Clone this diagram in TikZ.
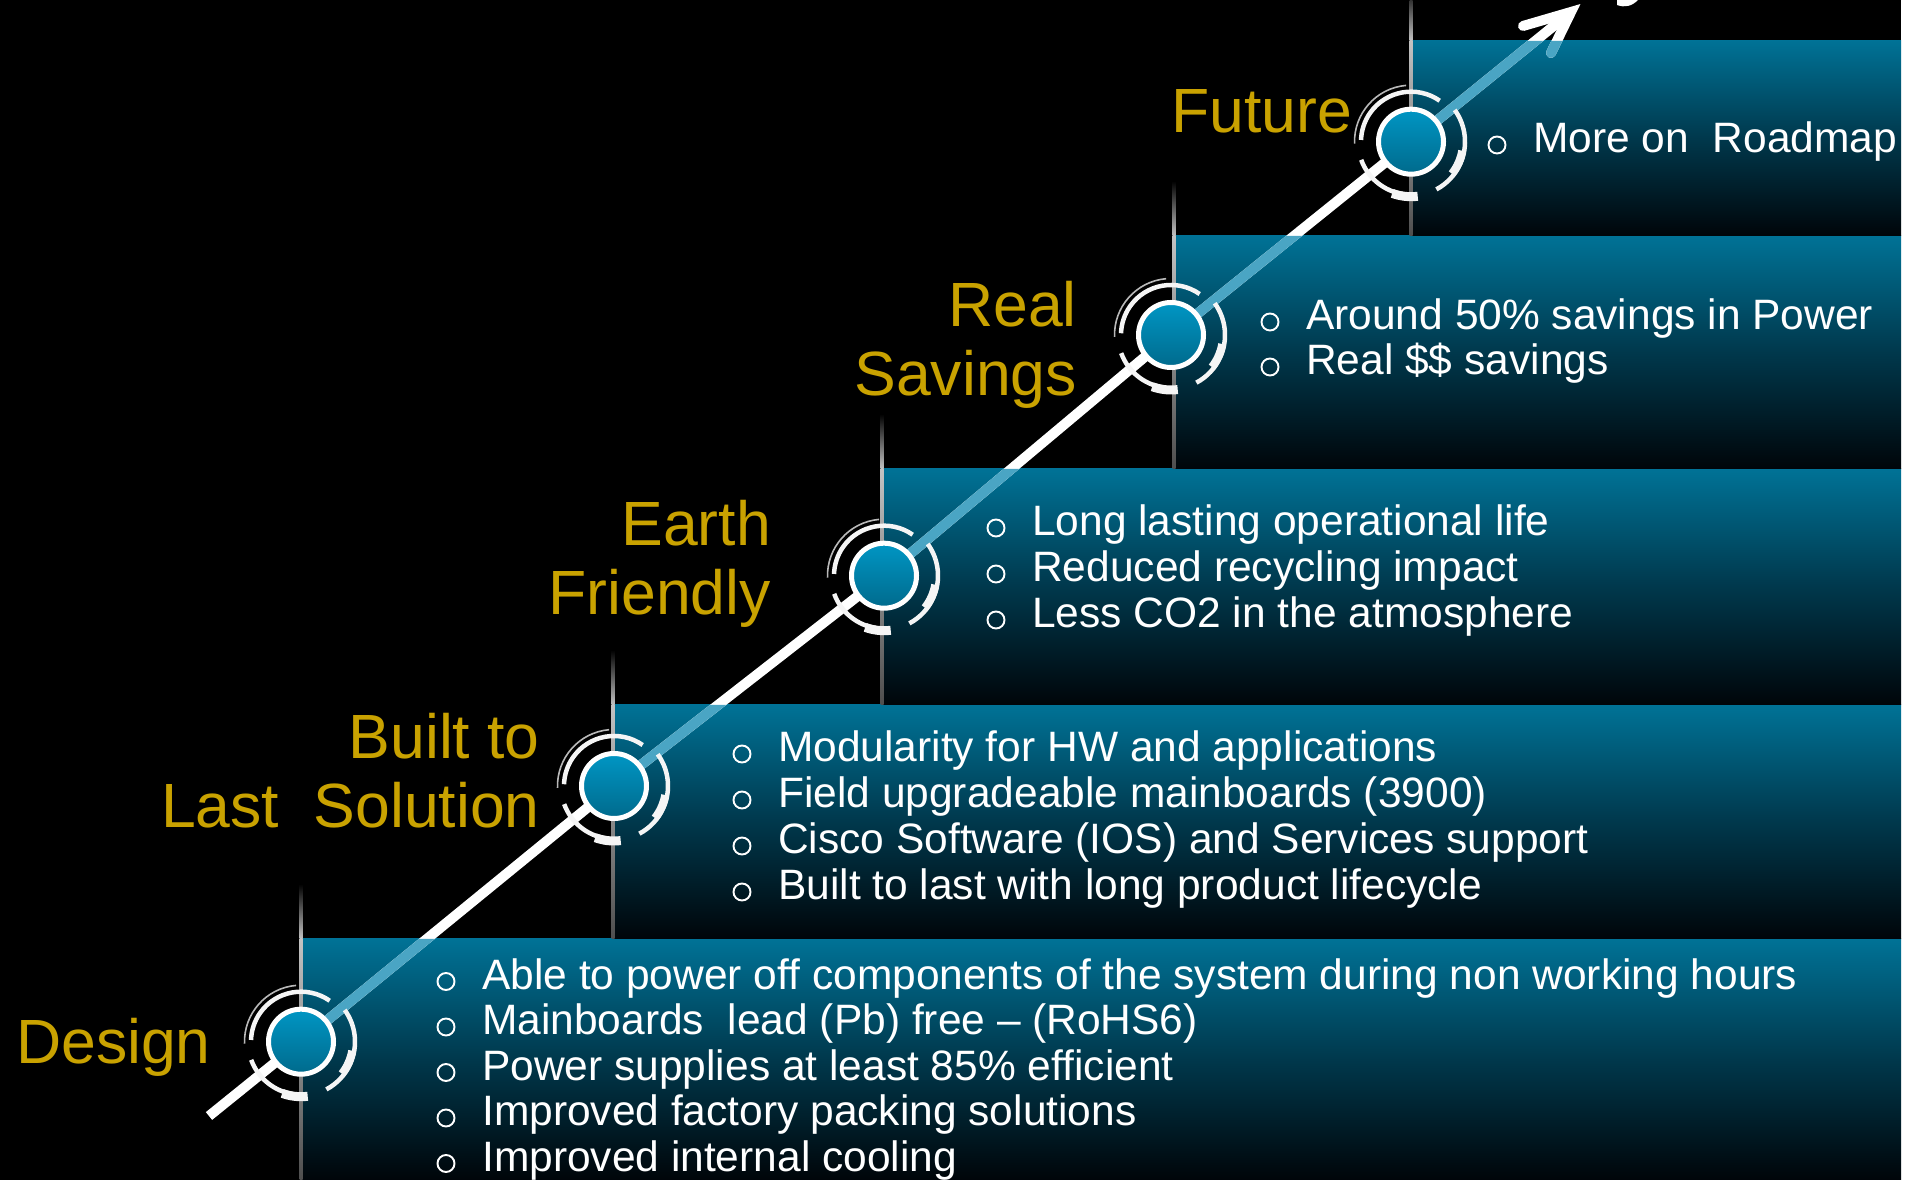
\documentclass[tikz,border=0pt]{standalone}
\usepackage{fontspec}
\setmainfont{Liberation Sans}
\definecolor{gold}{RGB}{201,162,0}
\definecolor{ptop}{RGB}{0,114,150}
\definecolor{pmid}{RGB}{0,56,76}
\definecolor{pbot}{RGB}{0,5,9}
\definecolor{lblue}{RGB}{74,165,196}
\definecolor{dtop}{RGB}{0,150,196}
\definecolor{dbot}{RGB}{0,106,140}
\definecolor{edgeg}{RGB}{195,195,195}
\definecolor{ringw}{RGB}{245,245,245}
\definecolor{ringg}{RGB}{185,185,185}
\tikzset{
  panelshade/.style={top color=ptop, bottom color=pbot, middle color=pmid},
  mainline/.style={line width=10pt, line join=round},
  dot/.style={circle, minimum size=65pt, inner sep=0pt, draw=white, line width=5pt, top color=dtop, bottom color=dbot},
  ringthin/.style={draw=ringg, line width=1.6pt},
  ringthick/.style={draw=ringw, line width=4.5pt},
  title/.style={text=gold, inner sep=0pt, font=\fontsize{62.5}{69}\selectfont},
  btxt/.style={text=white, inner sep=0pt, anchor=base west, font=\fontsize{42.5}{50}\selectfont},
  bul/.style={draw=white, line width=1.9pt}
}
\newcommand\ringdeco[2]{%
  \begin{scope}[shift={(#1,#2)}]
    \draw[ringthin] (95:56.5) arc[start angle=95, end angle=182, radius=56.5];
    \draw[ringthick] (55:50) arc[start angle=55, end angle=178, radius=50];
    \draw[ringthick] (36:54) arc[start angle=36, end angle=-62, radius=54];
    \draw[ringthick, line width=8pt] (-10:52) arc[start angle=-10, end angle=-38, radius=52];
    \draw[ringthick] (200:53) arc[start angle=200, end angle=262, radius=53];
    \draw[ringthick, line width=9pt] (250:55) arc[start angle=250, end angle=277, radius=55];
  \end{scope}}
\newcommand\bitem[4]{%
  \draw[bul] (#2-36,#3+8) circle (8.5);
  \node[btxt] (#1) at (#2,#3) {#4};}
\begin{document}
\begin{tikzpicture}[x=1pt,y=1pt]
\useasboundingbox (0,0) rectangle (1914,1180);
% background
\fill[black] (0,0) rectangle (1901,1180);
\fill[white] (1901,0) rectangle (1914,1180);
% panels
\shade[panelshade] (301,0) rectangle (1901,241);
\shade[panelshade] (613,241) rectangle (1901,475);
\shade[panelshade] (882,475) rectangle (1901,711);
\shade[panelshade] (1174,711) rectangle (1901,944);
\shade[panelshade] (1411,944) rectangle (1901,1139);
% vertical edge lines
\foreach \x/\t/\b in {301/241/0, 613/475/241, 882/711/475, 1174/944/711, 1411/1139/944} {
  \shade[top color=black, bottom color=edgeg] (\x-1.5,\t) rectangle (\x+1.5,\t+55);
  \shade[top color=edgeg, bottom color=edgeg!40!black] (\x-1.5,\b) rectangle (\x+1.5,\t);
}
% coordinates of the path
\coordinate (s) at (209,64);
\coordinate (c1) at (301,138.3);
\coordinate (c2) at (614,394);
\coordinate (c3) at (884,604.3);
\coordinate (c4) at (1171,845);
\coordinate (c5) at (1411,1038.3);
\coordinate (tip) at (1571,1168);
\coordinate (bl) at (1523,1154);
\coordinate (br) at (1551,1127);
% main line (white over black)
\draw[mainline, white] (s) -- (c1) -- (c2) -- (c3) -- (c4) -- (c5) -- (tip);
\draw[mainline, white, line cap=round, line join=miter] (bl) -- (tip) -- (br);
% main line over panels (light blue)
\begin{scope}
  \clip (301,0) rectangle (1901,241) (613,241) rectangle (1901,475)
        (882,475) rectangle (1901,711) (1174,711) rectangle (1901,944)
        (1411,944) rectangle (1901,1139);
  \draw[mainline, lblue] (s) -- (c1) -- (c2) -- (c3) -- (c4) -- (c5) -- (tip);
  \draw[mainline, lblue, line cap=round, line join=miter] (bl) -- (tip) -- (br);
\end{scope}
% fragment at top edge
\fill[white] (1617,1180) -- (1617,1175) .. controls (1625,1172) and (1632,1174) .. (1638,1180) -- cycle;
% ring decorations and dots
\ringdeco{301}{138.3}
\ringdeco{614}{394}
\ringdeco{884}{604.3}
\ringdeco{1171}{845}
\ringdeco{1411}{1038.3}
\node[dot] (d1) at (c1) {};
\node[dot] (d2) at (c2) {};
\node[dot] (d3) at (c3) {};
\node[dot] (d4) at (c4) {};
\node[dot] (d5) at (c5) {};
% titles
\node[title, anchor=base west] (tDesign) at (16,116) {Design};
\node[title, anchor=base east] (tBuiltA) at (540,421) {Built to};
\node[title, anchor=base east] (tBuiltB) at (540,352) {Last~ Solution};
\node[title, anchor=base east] (tEarthA) at (771,634) {Earth};
\node[title, anchor=base east] (tEarthB) at (771,565) {Friendly};
\node[title, anchor=base east] (tRealA) at (1077,853) {Real};
\node[title, anchor=base east] (tRealB) at (1077,784) {Savings};
\node[title, anchor=base east] (tFuture) at (1352,1047) {Future};
% bullet lists
\bitem{a1}{482}{190.5}{Able to power off components of the system during non working hours}
\bitem{a2}{482}{145}{Mainboards~ lead (Pb) free – (RoHS6)}
\bitem{a3}{482}{99.5}{Power supplies at least 85\% efficient}
\bitem{a4}{482}{54}{Improved factory packing solutions}
\bitem{a5}{482}{8.5}{Improved internal cooling}
\bitem{b1}{778}{418}{Modularity for HW and applications}
\bitem{b2}{778}{372}{Field upgradeable mainboards (3900)}
\bitem{b3}{778}{326}{Cisco Software (IOS) and Services support}
\bitem{b4}{778}{280}{Built to last with long product lifecycle}
\bitem{e1}{1032}{644}{Long lasting operational life}
\bitem{e2}{1032}{598}{Reduced recycling impact}
\bitem{e3}{1032}{552}{Less CO2 in the atmosphere}
\bitem{r1}{1306}{850}{Around 50\% savings in Power}
\bitem{r2}{1306}{805}{Real \$\$ savings}
\bitem{f1}{1533}{1027}{More on~ Roadmap}
\end{tikzpicture}
\end{document}
